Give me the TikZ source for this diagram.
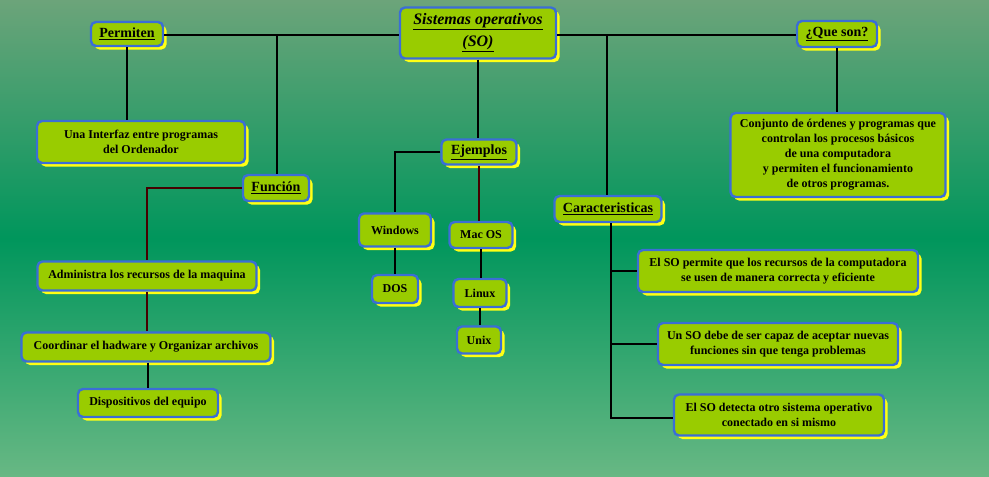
\documentclass[tikz,border=0pt]{standalone}
\usepackage{fontspec}
\setmainfont{Liberation Serif}
\usepackage{xcolor}
\usetikzlibrary{shadows, calc}
\definecolor{cLime}{RGB}{153,204,0}
\definecolor{cBorder}{RGB}{59,110,214}
\definecolor{cShadow}{RGB}{255,255,20}
\definecolor{cBgTop}{RGB}{108,164,122}
\definecolor{cBgMid}{RGB}{0,150,92}
\definecolor{cBgBot}{RGB}{104,184,132}
\definecolor{cDarkRed}{RGB}{70,0,0}
\tikzset{
	concept/.style={rectangle, rounded corners=5pt, draw=cBorder, line width=2.4pt, fill=cLime, align=center, inner sep=2pt,
		font=\fontsize{12}{15}\selectfont\bfseries,
		drop shadow={shadow xshift=3.5pt, shadow yshift=-3.5pt, fill=cShadow, opacity=1}},
	topic/.style={concept, font=\fontsize{14}{15}\selectfont\bfseries},
	link/.style={draw=black, line width=1.8pt},
	redlink/.style={draw=cDarkRed, line width=1.8pt},
}
\begin{document}
\begin{tikzpicture}[x=1pt, y=-1pt]
	\shade[top color=cBgTop, bottom color=cBgBot, middle color=cBgMid] (0,0) rectangle (989,477);
	\useasboundingbox (0,0) rectangle (989,477);
	% top level
	\node[concept, minimum width=156pt, minimum height=51pt, font=\fontsize{16}{22}\selectfont\bfseries\itshape] (so) at (478,33) {\underline{Sistemas operativos}\\\underline{(SO)}};
	\node[topic, minimum width=72pt, minimum height=24pt] (permiten) at (127,34) {\underline{Permiten}};
	\node[topic, minimum width=80pt, minimum height=26pt] (queson) at (837,34) {\underline{¿Que son?}};
	\node[topic, minimum width=66pt, minimum height=26pt] (funcion) at (276,188) {\underline{Función}};
	\node[topic, minimum width=75pt, minimum height=25pt] (ejemplos) at (479,152) {\underline{Ejemplos}};
	\node[topic, minimum width=107pt, minimum height=26pt] (caract) at (608,209) {\underline{Caracteristicas}};
	% leaves
	\node[concept, minimum width=208pt, minimum height=42pt] (interfaz) at (141,142) {Una Interfaz entre programas\\del Ordenador};
	\node[concept, minimum width=215pt, minimum height=84pt] (conjunto) at (838,155) {Conjunto de órdenes y programas que\\controlan los procesos básicos\\de una computadora\\y permiten el funcionamiento\\de otros programas.};
	\node[concept, minimum width=72pt, minimum height=33pt] (windows) at (395,230) {Windows};
	\node[concept, minimum width=63pt, minimum height=26pt] (macos) at (481,235) {Mac OS};
	\node[concept, minimum width=46pt, minimum height=28pt] (dos) at (395,289) {DOS};
	\node[concept, minimum width=53pt, minimum height=28pt] (linux) at (480,293) {Linux};
	\node[concept, minimum width=44pt, minimum height=27pt] (unix) at (479,340) {Unix};
	\node[concept, minimum width=219pt, minimum height=29pt] (administra) at (147,276) {Administra los recursos de la maquina};
	\node[concept, minimum width=249pt, minimum height=29pt] (coordinar) at (146,347) {Coordinar el hadware y Organizar archivos};
	\node[concept, minimum width=140pt, minimum height=28pt] (dispositivos) at (148,403) {Dispositivos del equipo};
	\node[concept, minimum width=280pt, minimum height=42pt] (permite) at (778,271) {El SO permite que los recursos de la computadora\\se usen de manera correcta y eficiente};
	\node[concept, minimum width=240pt, minimum height=42pt] (debe) at (778,344) {Un SO debe de ser capaz de aceptar nuevas\\funciones sin que tenga problemas};
	\node[concept, minimum width=210pt, minimum height=41pt] (detecta) at (779,415) {El SO detecta otro sistema operativo\\conectado en si mismo};
	% connectors
	\coordinate (jf) at (277,35);
	\coordinate (jc) at (607,35);
	\coordinate (ce) at (611,418);
	\path[link] (permiten.east |- jf) -- (so.west |- jf);
	\path[link] (so.east |- jf) -- (queson.west |- jf);
	\path[link] (jf) -- (jf |- funcion.north);
	\path[link] (jc) -- (jc |- caract.north);
	\path[link] (permiten.south) -- (interfaz.north -| permiten.south);
	\path[link] (so.south) -- (ejemplos.north -| so.south);
	\path[link] (queson.south) -- (conjunto.north -| queson.south);
	\path[redlink] (funcion.west) -| (administra.north);
	\path[redlink] (administra.south) -- (coordinar.north -| administra.south);
	\path[link] (coordinar.south -| dispositivos.north) -- (dispositivos.north);
	\path[link] (ejemplos.west) -| (windows.north);
	\path[redlink] (ejemplos.south) -- (macos.north -| ejemplos.south);
	\path[link] (windows.south) -- (dos.north);
	\path[link] (macos.south) -- (linux.north -| macos.south);
	\path[link] (linux.south) -- (unix.north -| linux.south);
	\path[link] (caract.south -| ce) -- (ce) -- (ce -| detecta.west);
	\path[link] (ce |- permite.west) -- (permite.west);
	\path[link] (ce |- debe.west) -- (debe.west);
\end{tikzpicture}
\end{document}
